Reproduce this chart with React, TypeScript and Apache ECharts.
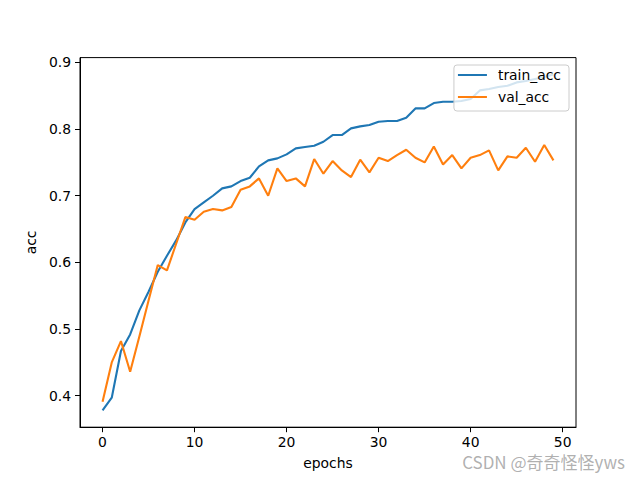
import React, { useEffect, useRef } from "react";
import * as echarts from "echarts";

const epochs: number[] = Array.from({ length: 50 }, (_, i) => i);

const trainAcc: number[] = [
  0.378, 0.397, 0.467, 0.492, 0.528, 0.556, 0.586, 0.61, 0.633, 0.66,
  0.68, 0.69, 0.7, 0.711, 0.714, 0.722, 0.727, 0.744, 0.753, 0.756,
  0.762, 0.771, 0.773, 0.775, 0.781, 0.791, 0.791, 0.801, 0.804, 0.806,
  0.811, 0.812, 0.812, 0.817, 0.831, 0.831, 0.839, 0.841, 0.841, 0.842,
  0.845, 0.858, 0.86, 0.863, 0.865, 0.87, 0.872, 0.875, 0.878, 0.882,
];

const valAcc: number[] = [
  0.391, 0.45, 0.482, 0.436, 0.489, 0.543, 0.596, 0.588, 0.628, 0.668,
  0.664, 0.676, 0.68, 0.678, 0.683, 0.709, 0.714, 0.726, 0.7, 0.741,
  0.722, 0.726, 0.714, 0.755, 0.733, 0.752, 0.738, 0.728, 0.754, 0.735,
  0.757, 0.752, 0.761, 0.769, 0.757, 0.75, 0.774, 0.747, 0.761, 0.741,
  0.757, 0.761, 0.768, 0.738, 0.759, 0.757, 0.772, 0.751, 0.776, 0.753,
];

const xTicks: number[] = [0, 10, 20, 30, 40, 50];
const yTicks: number[] = [0.4, 0.5, 0.6, 0.7, 0.8, 0.9];

const seriesNames = ["train_acc", "val_acc"];
const colors = ["#1f77b4", "#ff7f0e"];

const FONT = "DejaVu Sans";

export default function App() {
  const ref = useRef<HTMLDivElement>(null);

  useEffect(() => {
    if (!ref.current) return;
    const chart = echarts.init(ref.current, undefined, { renderer: "svg" });
    const allVals = trainAcc.concat(valAcc);
    const dMin = Math.min(...allVals);
    const dMax = Math.max(...allVals);
    const yPad = (dMax - dMin) * 0.05;
    const xPad = (epochs[epochs.length - 1] - epochs[0]) * 0.05;

    chart.setOption({
      animation: false,
      backgroundColor: "#ffffff",
      grid: {
        left: 80,
        right: 64,
        top: 57.6,
        bottom: 52.8,
        show: true,
        borderColor: "#000",
        borderWidth: 1,
        containLabel: false,
      },
      xAxis: {
        type: "value",
        min: epochs[0] - xPad,
        max: epochs[epochs.length - 1] + xPad,
        name: "epochs",
        nameLocation: "middle",
        nameGap: 29,
        nameTextStyle: { fontFamily: FONT, fontSize: 13.9, color: "#000", verticalAlign: "top" },
        axisLine: { onZero: false, lineStyle: { color: "#000", width: 1 } },
        axisTick: { show: true, length: 5, customValues: xTicks, lineStyle: { color: "#000" } },
        axisLabel: {
          customValues: xTicks,
          margin: 8,
          fontFamily: FONT,
          fontSize: 13.9,
          color: "#000",
        },
        splitLine: { show: false },
      },
      yAxis: {
        type: "value",
        min: dMin - yPad,
        max: dMax + yPad,
        name: "acc",
        nameLocation: "middle",
        nameRotate: 90,
        nameGap: 41,
        nameTextStyle: { fontFamily: FONT, fontSize: 13.9, color: "#000" },
        axisLine: { onZero: false, lineStyle: { color: "#000", width: 1 } },
        axisTick: { show: true, length: 5, customValues: yTicks, lineStyle: { color: "#000" } },
        axisLabel: {
          customValues: yTicks,
          margin: 9,
          fontFamily: FONT,
          fontSize: 13.9,
          color: "#000",
          formatter: (v: number) => v.toFixed(1),
        },
        splitLine: { show: false },
      },
      legend: {
        data: seriesNames,
        orient: "vertical",
        right: 71,
        top: 65,
        icon: "rect",
        itemWidth: 29,
        itemHeight: 2,
        itemGap: 6,
        padding: [2, 8, 6, 4],
        backgroundColor: "rgba(255,255,255,0.8)",
        borderColor: "#cccccc",
        borderWidth: 1,
        borderRadius: 3,
        textStyle: {
          fontFamily: FONT,
          fontSize: 13.9,
          color: "#000",
          lineHeight: 16,
          padding: [0, 0, 0, 6],
        },
      },
      series: [
        {
          name: seriesNames[0],
          type: "line",
          data: epochs.map((e, i) => [e, trainAcc[i]]),
          symbol: "none",
          showSymbol: false,
          color: colors[0],
          lineStyle: { color: colors[0], width: 2.1 },
        },
        {
          name: seriesNames[1],
          type: "line",
          data: epochs.map((e, i) => [e, valAcc[i]]),
          symbol: "none",
          showSymbol: false,
          color: colors[1],
          lineStyle: { color: colors[1], width: 2.1 },
        },
      ],
      graphic: [
        {
          type: "text",
          right: 15,
          top: 453,
          style: {
            text: "CSDN @奇奇怪怪yws",
            fontSize: 17,
            fontFamily: "Noto Sans CJK SC",
            fill: "rgba(150,150,150,0.75)",
          },
        },
      ],
    });
    return () => chart.dispose();
  }, []);

  return (
    <div
      ref={ref}
      style={{ position: "absolute", left: 0, top: 0, width: 640, height: 480 }}
    />
  );
}
